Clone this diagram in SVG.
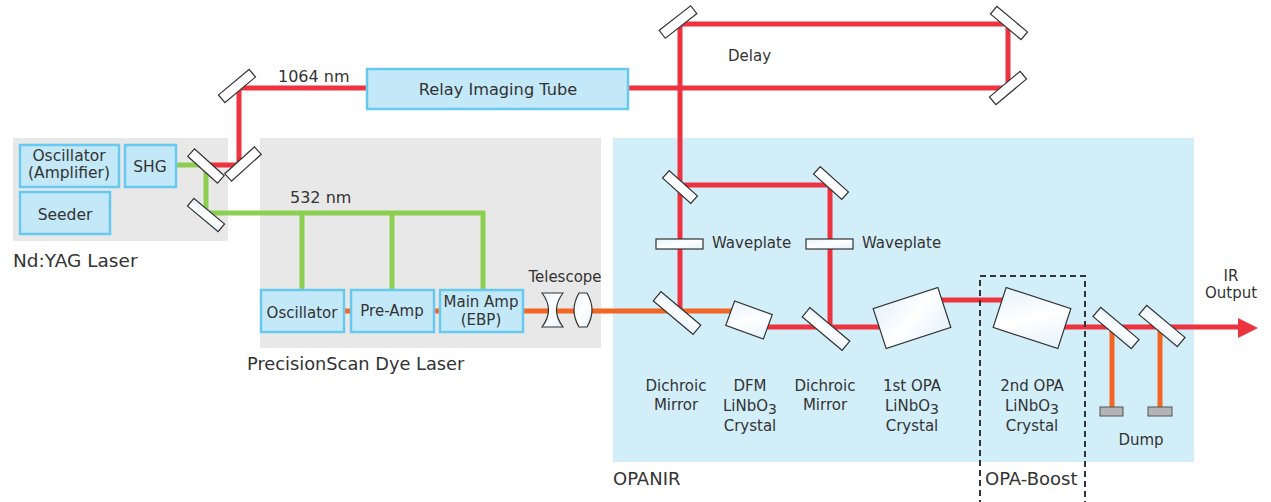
<svg xmlns="http://www.w3.org/2000/svg" width="1271" height="502" viewBox="0 0 1271 502">
<defs>
<linearGradient id="glass" x1="0" y1="0" x2="1" y2="1">
<stop offset="0" stop-color="#e4f2fb"/>
<stop offset="0.5" stop-color="#ffffff"/>
<stop offset="1" stop-color="#e4f2fb"/>
</linearGradient>
<style>
.t{font-family:"DejaVu Sans","Noto Sans",sans-serif;fill:#333;font-size:15px}
.c{text-anchor:middle}
.box{fill:#c3e8f8;stroke:#68c9f0;stroke-width:2.5}
.red{fill:none;stroke:#ee3340;stroke-width:5}
.grn{fill:none;stroke:#8ccf50;stroke-width:5}
.org{fill:none;stroke:#f26522;stroke-width:5}
.mir{fill:#fff;stroke:#333;stroke-width:1.2}
.gl{fill:url(#glass);stroke:#333;stroke-width:1.2}
.dump{fill:#b3b3b3;stroke:#555;stroke-width:1}
</style>
</defs>
<rect width="1271" height="502" fill="#fff"/>
<g id="backgrounds">
<rect x="13" y="138" width="215" height="103" fill="#e8e8e8"/>
<rect x="260" y="138" width="341" height="210" fill="#e8e8e8"/>
<rect x="613" y="138" width="581" height="324" fill="#d2eef9"/>
</g>
<g id="connectors">
<path class="red" d="M206,165 H239 V88 H1008 V24 H680 V312"/>
<path class="red" d="M680,185 H830 V329"/>
<path class="red" d="M765,327 H885"/>
<path class="red" d="M935,300 H1008"/>
<path class="red" d="M1060,327 H1240"/>
<polygon points="1238,318 1258,328 1238,338" fill="#ee3340"/>
<path class="org" d="M300,311 H735"/>
<path class="org" d="M1112,328 V408 M1160,328 V408"/>
<path class="grn" d="M176,165 H206 V213 H483 V290 M302,213 V290 M392,213 V290"/>
</g>
<g id="nd-yag">
<rect class="box" x="20" y="145" width="99" height="42"/>
<text class="t c" x="69" y="161" style="font-size:15.5px">Oscillator</text>
<text class="t c" x="69" y="178" style="font-size:15.5px">(Amplifier)</text>
<rect class="box" x="125" y="145" width="51" height="42"/>
<text class="t c" x="150" y="172" style="font-size:15.5px">SHG</text>
<rect class="box" x="20" y="192" width="90" height="42"/>
<text class="t c" x="65" y="220" style="font-size:15.5px">Seeder</text>
<text class="t" x="13" y="267" style="font-size:18.5px">Nd:YAG Laser</text>
</g>
<g id="mirrors-yag">
<rect class="mir" x="-20" y="-5" width="40" height="10" transform="translate(206,166) rotate(42)"/>
<rect class="mir" x="-20" y="-5" width="40" height="10" transform="translate(243,164) rotate(-42)"/>
<rect class="mir" x="-20" y="-5" width="40" height="10" transform="translate(237,86) rotate(-40)"/>
<rect class="gl" x="-20" y="-5" width="40" height="10" transform="translate(206,215) rotate(40)"/>
</g>
<g id="relay">
<rect class="box" x="367" y="69" width="261" height="40"/>
<text class="t c" x="498" y="95" style="font-size:16.2px">Relay Imaging Tube</text>
<text class="t" x="278" y="82" style="font-size:16px">1064 nm</text>
</g>
<g id="delay">
<rect class="mir" x="-20" y="-5" width="40" height="10" transform="translate(678,22) rotate(-38)"/>
<rect class="mir" x="-20" y="-5" width="40" height="10" transform="translate(1009,23) rotate(40)"/>
<rect class="mir" x="-20" y="-5" width="40" height="10" transform="translate(1008,88) rotate(-40)"/>
<text class="t" x="728" y="61">Delay</text>
</g>
<g id="dye-laser">
<text class="t" x="290" y="203" style="font-size:16px">532 nm</text>
<rect class="box" x="261" y="290" width="83" height="42"/>
<text class="t c" x="302" y="318">Oscillator</text>
<rect class="box" x="351" y="290" width="83" height="42"/>
<text class="t c" x="392" y="316">Pre-Amp</text>
<rect class="box" x="440" y="290" width="83" height="42"/>
<text class="t c" x="481" y="307">Main Amp</text>
<text class="t c" x="481" y="325">(EBP)</text>
<text class="t" x="247" y="370" style="font-size:17.8px">PrecisionScan Dye Laser</text>
</g>
<g id="telescope">
<path class="gl" d="M542,293 H563 Q550,310 563,327 H542 Q555,310 542,293 Z"/>
<path class="gl" d="M579,293 H587 Q597,310 587,327 H579 Q569,310 579,293 Z"/>
<text class="t c" x="565" y="282">Telescope</text>
</g>
<g id="opanir">
<rect class="mir" x="-19" y="-5" width="38" height="10" transform="translate(680,187) rotate(42)"/>
<rect class="mir" x="-19" y="-5" width="38" height="10" transform="translate(831,183) rotate(42)"/>
<rect class="gl" x="656" y="239" width="47" height="10"/>
<text class="t" x="712" y="248">Waveplate</text>
<rect class="gl" x="806" y="239" width="47" height="10"/>
<text class="t" x="862" y="248">Waveplate</text>
<rect class="gl" x="-26" y="-6" width="52" height="12" transform="translate(677,313) rotate(40)"/>
<rect class="gl" x="-26" y="-6" width="52" height="12" transform="translate(826,329) rotate(40)"/>
<rect class="gl" x="-20" y="-13" width="40" height="26" transform="translate(749,320) rotate(20)"/>
<rect class="gl" x="-34" y="-21" width="68" height="42" transform="translate(912,318) rotate(-18)"/>
<rect class="gl" x="-34" y="-21" width="68" height="42" transform="translate(1032,318) rotate(18)"/>
<rect class="gl" x="-25" y="-6" width="50" height="12" transform="translate(1116,328) rotate(40)"/>
<rect class="gl" x="-25" y="-6" width="50" height="12" transform="translate(1162,326) rotate(40)"/>
<rect class="dump" x="1100" y="407" width="23" height="9"/>
<rect class="dump" x="1148" y="407" width="24" height="9"/>
<text class="t c" x="676" y="391">Dichroic</text>
<text class="t c" x="676" y="410">Mirror</text>
<text class="t c" x="750" y="391">DFM</text>
<text class="t c" x="750" y="411">LiNbO<tspan dy="3" style="font-size:14px">3</tspan></text>
<text class="t c" x="750" y="431">Crystal</text>
<text class="t c" x="825" y="391">Dichroic</text>
<text class="t c" x="825" y="410">Mirror</text>
<text class="t c" x="912" y="391">1st OPA</text>
<text class="t c" x="912" y="411">LiNbO<tspan dy="3" style="font-size:14px">3</tspan></text>
<text class="t c" x="912" y="431">Crystal</text>
<text class="t c" x="1032" y="391">2nd OPA</text>
<text class="t c" x="1032" y="411">LiNbO<tspan dy="3" style="font-size:14px">3</tspan></text>
<text class="t c" x="1032" y="431">Crystal</text>
<text class="t c" x="1141" y="445">Dump</text>
<text class="t c" x="1231" y="281">IR</text>
<text class="t c" x="1231" y="298">Output</text>
<text class="t" x="613" y="485" style="font-size:18px">OPANIR</text>
</g>
<g id="opa-boost">
<rect x="980" y="276" width="105" height="240" fill="none" stroke="#333" stroke-width="2" stroke-dasharray="6,4"/>
<text class="t" x="985" y="485" style="font-size:18px">OPA-Boost</text>
</g>
</svg>
